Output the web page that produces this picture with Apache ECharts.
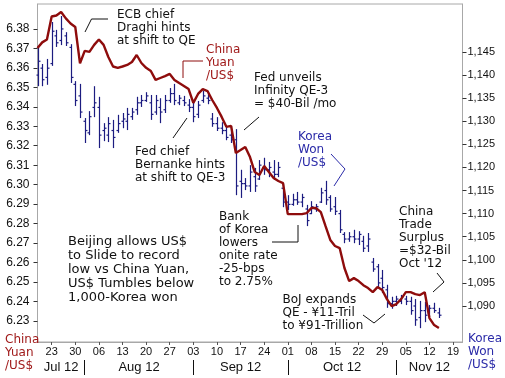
<!DOCTYPE html>
<html><head><meta charset="utf-8">
<script src="https://cdn.jsdelivr.net/npm/echarts@6.0.0/dist/echarts.min.js"></script>
<style>html,body{margin:0;padding:0;background:#fff}#c{width:505px;height:378px}</style>
</head><body><div id="c"></div>
<script>
// Trading days (weekdays) on the x axis
const dates = [
"2012-07-18","2012-07-19","2012-07-20","2012-07-23","2012-07-24","2012-07-25","2012-07-26","2012-07-27","2012-07-30","2012-07-31",
"2012-08-01","2012-08-02","2012-08-03","2012-08-06","2012-08-07","2012-08-08","2012-08-09","2012-08-10","2012-08-13","2012-08-14",
"2012-08-15","2012-08-16","2012-08-17","2012-08-20","2012-08-21","2012-08-22","2012-08-23","2012-08-24","2012-08-27","2012-08-28",
"2012-08-29","2012-08-30","2012-08-31","2012-09-03","2012-09-04","2012-09-05","2012-09-06","2012-09-07","2012-09-10","2012-09-11",
"2012-09-12","2012-09-13","2012-09-14","2012-09-17","2012-09-18","2012-09-19","2012-09-20","2012-09-21","2012-09-24","2012-09-25",
"2012-09-26","2012-09-27","2012-09-28","2012-10-01","2012-10-02","2012-10-03","2012-10-04","2012-10-05","2012-10-08","2012-10-09",
"2012-10-10","2012-10-11","2012-10-12","2012-10-15","2012-10-16","2012-10-17","2012-10-18","2012-10-19","2012-10-22","2012-10-23",
"2012-10-24","2012-10-25","2012-10-26","2012-10-29","2012-10-30","2012-10-31","2012-11-01","2012-11-02","2012-11-05","2012-11-06",
"2012-11-07","2012-11-08","2012-11-09","2012-11-12","2012-11-13","2012-11-14","2012-11-15","2012-11-16","2012-11-19","2012-11-20",
"2012-11-21"];

// China Yuan per US$ (daily)
const yuan = [
6.3702,6.3731,6.3746,6.3864,6.3869,6.3887,6.3854,6.3828,6.3810,6.3623,
6.3687,6.3682,6.3718,6.3746,6.3718,6.3656,6.3607,6.3600,6.3607,6.3615,
6.3630,6.3666,6.3625,6.3600,6.3584,6.3538,6.3548,6.3558,6.3569,6.3538,
6.3522,6.3507,6.3491,6.3420,6.3466,6.3491,6.3481,6.3435,6.3394,6.3348,
6.3297,6.3302,6.3163,6.3178,6.3194,6.3142,6.3065,6.3050,6.3096,6.3065,
6.3034,6.3019,6.3008,6.2849,6.2849,6.2849,6.2849,6.2854,6.2880,6.2880,
6.2859,6.2787,6.2716,6.2685,6.2674,6.2572,6.2505,6.2520,6.2505,6.2484,
6.2469,6.2448,6.2474,6.2459,6.2412,6.2376,6.2387,6.2412,6.2448,6.2448,
6.2438,6.2433,6.2448,6.2315,6.2279,6.2264];

// Korea Won per US$ (daily OHLC)
const wonOpen = [
1140.0,1141.5,1139.5,1142.5,1148.5,1147.5,1148.5,1146.0,1138.0,1135.5,
1130.0,1127.5,1133.0,1133.0,1128.0,1127.0,1128.0,1128.0,1130.0,1130.0,
1131.0,1132.5,1134.0,1134.5,1134.0,1132.0,1133.0,1132.5,1134.5,1136.0,
1134.0,1134.5,1133.5,1133.0,1131.5,1134.5,1135.0,1130.5,1129.5,1128.5,
1128.0,1127.0,1126.0,1117.0,1116.5,1116.0,1118.0,1117.5,1120.0,1119.5,
1119.0,1118.5,1115.5,1112.5,1112.0,1113.0,1112.5,1111.0,1110.0,1111.0,
1112.5,1115.0,1113.5,1111.5,1110.0,1105.5,1104.5,1105.0,1104.5,1104.0,
1103.0,1099.5,1098.5,1096.0,1093.5,1090.5,1091.0,1091.0,1091.5,1091.0,
1090.0,1087.5,1089.0,1088.5,1089.5,1088.5];
const wonHigh = [
1146.1,1142.4,1143.5,1151.5,1149.8,1152.8,1149.3,1146.7,1138.7,1138.1,
1130.7,1132.2,1137.6,1135.3,1129.6,1130.9,1130.3,1131.4,1131.8,1132.9,
1132.9,1135.3,1135.7,1136.3,1135.7,1135.7,1135.0,1135.7,1137.2,1138.1,
1135.7,1135.5,1134.8,1134.6,1134.4,1136.6,1136.3,1131.8,1130.9,1129.8,
1129.0,1129.0,1128.3,1119.5,1117.7,1120.5,1119.9,1121.6,1122.1,1121.2,
1121.6,1121.2,1116.4,1114.0,1114.3,1114.7,1114.3,1111.9,1112.7,1112.1,
1115.6,1117.1,1114.0,1113.6,1110.8,1106.0,1106.0,1106.5,1106.2,1105.2,
1105.8,1100.4,1099.1,1097.8,1094.6,1092.0,1092.2,1092.4,1092.2,1092.0,
1091.5,1091.1,1090.9,1090.2,1090.7,1089.6];
const wonLow = [
1137.6,1137.6,1137.9,1142.0,1146.1,1146.5,1146.3,1138.3,1133.3,1130.7,
1125.3,1127.0,1130.9,1124.2,1125.7,1125.5,1124.2,1127.5,1128.5,1128.1,
1130.3,1131.4,1133.1,1134.2,1130.3,1131.4,1129.6,1131.8,1134.0,1133.5,
1133.5,1133.3,1132.0,1129.8,1130.7,1134.0,1133.7,1128.8,1127.9,1127.2,
1125.9,1125.3,1114.0,1113.4,1115.1,1114.7,1114.7,1117.3,1118.4,1117.9,
1117.3,1117.9,1111.4,1110.8,1111.7,1111.9,1111.4,1107.3,1109.9,1110.4,
1112.3,1111.9,1110.4,1109.7,1105.8,1103.6,1103.9,1103.6,1103.2,1101.7,
1101.7,1097.4,1093.9,1092.8,1089.6,1089.4,1090.0,1090.4,1090.2,1088.1,
1085.7,1085.2,1086.5,1087.6,1088.5,1087.4];
const wonClose = [
1143.0,1139.0,1141.5,1149.5,1147.0,1150.0,1147.0,1139.5,1134.5,1132.0,
1128.0,1131.0,1134.0,1127.0,1128.5,1129.5,1126.5,1129.5,1130.5,1131.5,
1132.0,1134.0,1134.5,1135.5,1131.5,1134.5,1132.0,1134.5,1136.0,1134.5,
1135.0,1134.0,1133.0,1131.0,1133.5,1135.5,1134.5,1129.5,1128.5,1128.0,
1126.5,1126.0,1116.0,1116.5,1116.0,1119.0,1116.0,1120.5,1119.5,1120.0,
1118.5,1120.0,1112.5,1112.0,1113.0,1112.5,1113.5,1108.5,1111.5,1111.5,
1114.5,1113.0,1111.0,1110.5,1106.5,1104.5,1105.0,1104.5,1105.5,1102.5,
1104.5,1098.0,1095.0,1094.0,1090.5,1091.0,1091.5,1092.0,1091.0,1089.0,
1087.0,1089.0,1088.0,1089.5,1089.0,1088.0];

// Tick labels
const yuanTicks = [6.23,6.24,6.25,6.26,6.27,6.28,6.29,6.30,6.31,6.32,6.33,6.34,6.35,6.36,6.37,6.38];
const wonTicks = [1090,1095,1100,1105,1110,1115,1120,1125,1130,1135,1140,1145];
const monthNames = ["Jul 12","Aug 12","Sep 12","Oct 12","Nov 12"];

// derived helpers
const isMonday = d => new Date(d + "T00:00:00Z").getUTCDay() === 1;
const monthStarts = [];
dates.forEach((d, i) => { if (i > 0 && d.slice(5,7) !== dates[i-1].slice(5,7)) monthStarts.push(i); });
const bounds = [0].concat(monthStarts, [dates.length - 1]);
const monthMids = monthNames.map((m, k) => (bounds[k] + bounds[k+1]) / 2);

const ohlc = wonOpen.map((o, i) => [i, o, wonHigh[i], wonLow[i], wonClose[i]]);

const AX = "'Liberation Sans', Arial, sans-serif";
const AN = "'DejaVu Sans', Verdana, sans-serif";
const RED = '#8e0c0c', NAVY = '#1c1c80';

function txt(x, y, text, color, size, lh) {
  return { type: 'text', x: x, y: y, z: 100, style: { text: text, fill: color || '#111', font: (size||12) + 'px ' + AN, lineHeight: lh || 13, verticalAlign: 'top' } };
}
function pl(points, color) {
  return { type: 'polyline', z: 100, shape: { points: points }, style: { stroke: color || '#111', lineWidth: 1, fill: null } };
}

const chart = echarts.init(document.getElementById('c'), null, { renderer: 'canvas' });
chart.setOption({
  animation: false,
  grid: { left: 37.5, right: 42.5, top: 4, bottom: 36, show: true, borderColor: '#a8a8a8', borderWidth: 1 },
  xAxis: [{
    type: 'category', data: dates, boundaryGap: false,
    axisLine: { lineStyle: { color: '#a8a8a8' } },
    axisTick: { interval: (i, v) => isMonday(v), length: 3, lineStyle: { color: '#555' } },
    axisLabel: { interval: (i, v) => isMonday(v), formatter: v => v.slice(8,10), color: '#111', fontFamily: AX, fontSize: 11, margin: 4 },
    splitLine: { show: false }
  }, {
    type: 'value', min: 0, max: dates.length - 1, position: 'bottom', offset: 18,
    axisLine: { show: false },
    axisTick: { show: true, customValues: monthStarts, length: 15, lineStyle: { color: '#111' } },
    axisLabel: { customValues: monthMids, formatter: v => { let k = 0, b = 1e9; monthMids.forEach((m, j) => { if (Math.abs(m - v) < b) { b = Math.abs(m - v); k = j; } }); return monthNames[k]; }, color: '#111', fontFamily: AX, fontSize: 13, margin: 1 },
    splitLine: { show: false }
  }],
  yAxis: [{
    type: 'value', position: 'left', min: 6.2192, max: 6.3928,
    axisLine: { show: true, lineStyle: { color: '#a8a8a8' } },
    axisTick: { show: true, customValues: yuanTicks, length: 4, lineStyle: { color: '#333' } },
    axisLabel: { customValues: yuanTicks, formatter: v => v.toFixed(2), color: '#111', fontFamily: AX, fontSize: 12, margin: 8 },
    splitLine: { show: false }
  }, {
    type: 'value', position: 'right', min: 1082.2, max: 1155.4,
    axisLine: { show: true, lineStyle: { color: '#a8a8a8' } },
    axisTick: { show: true, customValues: wonTicks, length: 4, lineStyle: { color: '#333' } },
    axisLabel: { customValues: wonTicks, formatter: v => Math.round(v).toLocaleString('en-US'), color: '#111', fontFamily: AX, fontSize: 11, margin: 5 },
    splitLine: { show: false }
  }],
  series: [{
    type: 'custom', name: 'Korea Won', xAxisIndex: 0, yAxisIndex: 1, data: ohlc,
    encode: { x: 0, y: [1, 2, 3, 4] }, z: 2,
    renderItem: (params, api) => {
      const x = api.value(0);
      const o = api.coord([x, api.value(1)]), h = api.coord([x, api.value(2)]);
      const l = api.coord([x, api.value(3)]), c = api.coord([x, api.value(4)]);
      const xc = Math.round(h[0]) + 0.5;
      const st = { stroke: NAVY, lineWidth: 1.2 };
      return { type: 'group', children: [
        { type: 'line', shape: { x1: xc, y1: h[1], x2: xc, y2: l[1] }, style: st },
        { type: 'line', shape: { x1: xc - 2, y1: o[1], x2: xc, y2: o[1] }, style: st },
        { type: 'line', shape: { x1: xc, y1: c[1], x2: xc + 2, y2: c[1] }, style: st }
      ] };
    }
  }, {
    type: 'line', name: 'China Yuan', xAxisIndex: 0, yAxisIndex: 0, data: yuan,
    showSymbol: false, symbol: 'none', z: 3,
    lineStyle: { color: RED, width: 2.4 }
  }],
  graphic: [
    txt(117, 8, 'ECB chief\nDraghi hints\nat shift to QE'),
    pl([[85, 32], [91.5, 19], [108, 19]]),
    txt(206, 43.5, 'China\nYuan\n/US$', '#a01a1a'),
    pl([[183, 78], [183, 61], [203, 61]], RED),
    txt(254, 71.5, 'Fed unveils\nInfinity QE-3\n= $40-Bil /mo'),
    pl([[244, 130], [259, 117]]),
    txt(135, 145, 'Fed chief\nBernanke hints\nat shift to QE-3'),
    pl([[173, 138], [187, 118]]),
    txt(298, 130, 'Korea\nWon\n/US$', '#2a2aa8'),
    pl([[331, 154], [345, 169], [334, 186]], '#2a2aa8'),
    txt(219, 210, 'Bank\nof Korea\nlowers\nonite rate\n-25-bps\nto 2.75%'),
    pl([[272, 242], [298, 242], [298, 225]]),
    txt(68, 234.5, 'Beijing allows US$\nto Slide to record\nlow vs China Yuan,\nUS$ Tumbles below\n1,000-Korea won', '#111', 13, 14),
    txt(282.5, 293, 'BoJ expands\nQE - \u00a511-Tril\nto \u00a591-Trillion'),
    pl([[363, 315], [374, 323], [385, 314]]),
    txt(399, 205, 'China\nTrade\nSurplus\n=$32-Bil\nOct \'12'),
    pl([[437, 273], [444, 282], [433, 292]]),
    txt(5, 333.5, 'China\nYuan\n/US$', '#a01a1a'),
    txt(468, 332.5, 'Korea\nWon\n/US$', '#2a2aa8')
  ]
});
</script>
</body></html>
